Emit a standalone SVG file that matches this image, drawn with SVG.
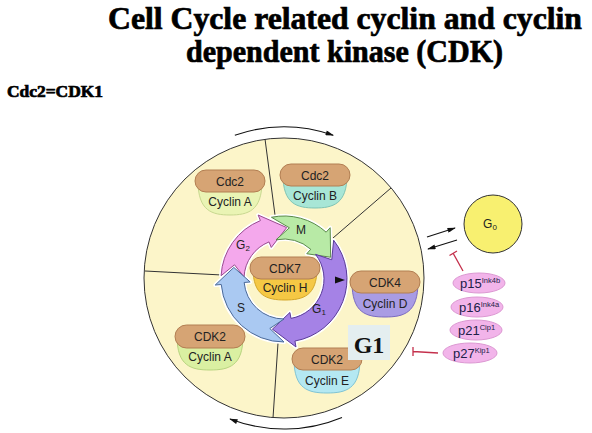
<svg xmlns="http://www.w3.org/2000/svg" xmlns:xlink="http://www.w3.org/1999/xlink" width="592" height="433" viewBox="0 0 592 433">
<style>
.title{font-family:"Liberation Serif","Times New Roman",serif;font-weight:bold;fill:#000;stroke:#000;stroke-width:0.7}
.lbl{font-family:"Liberation Sans",Arial,sans-serif;font-size:12px;fill:#222;text-anchor:middle}
.pl{font-family:"Liberation Sans",Arial,sans-serif;font-size:13px;fill:#202048}
.sup{font-size:7.5px}
.pill{fill:#d6a474;stroke:#b27e52;stroke-width:1}
.seg{stroke:#333;stroke-width:1;fill:none}
.halo{fill:none;stroke:#fff;stroke-width:4;stroke-linejoin:round}
.conn{stroke:#111;stroke-width:1.1;fill:none}
.inh{stroke:#c4304c;stroke-width:1.3;fill:none}
.pe{fill:#f2b4ea;stroke:#dc98d2;stroke-width:1}
</style>
<defs>
<marker id="ah" viewBox="0 0 10 6" refX="9" refY="3" markerWidth="9" markerHeight="5" markerUnits="userSpaceOnUse" orient="auto">
<path d="M0,0 L10,3 L0,6 z" fill="#111"/>
</marker>
<path id="aG2" d="M 221.09 275.70 A 63 63 0 0 1 260.40 220.59 L 258.15 215.02 L 286.69 227.57 L 271.26 247.48 L 269.02 241.91 A 40 40 0 0 0 244.05 276.91 L 234.49 264.81 Z"/>
<path id="aM" d="M 271.44 217.27 A 63 63 0 0 1 326.15 232.18 L 330.17 227.73 L 330.67 257.24 L 306.75 253.73 L 310.76 249.28 A 40 40 0 0 0 276.02 239.80 L 289.38 227.78 Z"/>
<path id="aG1" d="M 333.64 240.21 A 63 63 0 0 1 294.94 341.04 L 295.98 346.95 L 272.41 329.18 L 289.90 312.48 L 290.95 318.39 A 40 40 0 0 0 315.52 254.37 L 331.75 259.71 Z"/>
<path id="aS" d="M 284 342 A 63 63 0 0 1 221.24 284.49 L 215.26 285.01 L 233.82 267.41 L 250.13 281.96 L 244.15 282.49 A 40 40 0 0 0 284 319 L 269.81 328.51 Z"/>
</defs>
<rect width="592" height="433" fill="#fff"/>

<g id="title">
<text class="title" x="108" y="29" font-size="31" textLength="474" lengthAdjust="spacingAndGlyphs">Cell Cycle related cyclin and cyclin</text>
<text class="title" x="186" y="62" font-size="31" textLength="317" lengthAdjust="spacingAndGlyphs">dependent kinase (CDK)</text>
<text class="title" x="7" y="97" font-size="17" stroke-width="0.5" textLength="96" lengthAdjust="spacingAndGlyphs">Cdc2=CDK1</text>
</g>

<g id="cell-cycle">
<circle cx="284" cy="278" r="140" fill="#fcf5c9" stroke="#333" stroke-width="1"/>
<line class="seg" x1="265" y1="139" x2="275" y2="215"/>
<line class="seg" x1="391" y1="188" x2="333" y2="238"/>
<line class="seg" x1="145" y1="271" x2="222" y2="275"/>
<line class="seg" x1="278" y1="343" x2="273" y2="418"/>
</g>

<g id="phase-ring">
<use xlink:href="#aG2" class="halo"/>
<use xlink:href="#aM" class="halo"/>
<use xlink:href="#aG1" class="halo"/>
<use xlink:href="#aS" class="halo"/>
<use xlink:href="#aG2" fill="#f4a8ec" stroke="#9a4a90" stroke-width="1"/>
<use xlink:href="#aM" fill="#b8eaa6" stroke="#5a8a4a" stroke-width="1"/>
<use xlink:href="#aG1" fill="#a582e6" stroke="#5a3a9a" stroke-width="1"/>
<use xlink:href="#aS" fill="#aac9f2" stroke="#4a6a9a" stroke-width="1"/>
<path d="M335,276.5 L345,280 L335,283.5 Z" fill="#111"/>
<text class="lbl" x="243" y="249" fill="#5a1a6a">G<tspan font-size="8" dy="2">2</tspan></text>
<text class="lbl" x="301" y="234">M</text>
<text class="lbl" x="241" y="312">S</text>
<text class="lbl" x="319" y="313">G<tspan font-size="8" dy="2">1</tspan></text>
</g>

<g id="cdc2-cyclinA">
<path d="M198,181 H262 C262,211 248,215 230,215 C212,215 198,211 198,181 Z" fill="#eaf4b4" stroke="#c8d890"/>
<rect class="pill" x="195" y="170" width="70" height="22" rx="11"/>
<text class="lbl" x="230" y="185.5">Cdc2</text>
<text class="lbl" x="230" y="206">Cyclin A</text>
</g>

<g id="cdc2-cyclinB">
<path d="M283,175 H347 C347,204 333,208 315,208 C297,208 283,204 283,175 Z" fill="#a8e6d6" stroke="#80c4b4"/>
<rect class="pill" x="280" y="164" width="70" height="22" rx="11"/>
<text class="lbl" x="315" y="179.5">Cdc2</text>
<text class="lbl" x="315" y="200">Cyclin B</text>
</g>

<g id="cdk7-cyclinH">
<path d="M253,268 H317 C317,296 303,300 285,300 C267,300 253,296 253,268 Z" fill="#f5c844" stroke="#d4a628"/>
<rect class="pill" x="250" y="257" width="70" height="22" rx="11"/>
<text class="lbl" x="285" y="272.5">CDK7</text>
<text class="lbl" x="285" y="292">Cyclin H</text>
</g>

<g id="cdk4-cyclinD">
<path d="M352,282 H418 C418,313 404,317 385,317 C366,317 352,313 352,282 Z" fill="#a99ce4" stroke="#7a6ac0"/>
<rect class="pill" x="350" y="271" width="70" height="22" rx="11"/>
<text class="lbl" x="385" y="286.5">CDK4</text>
<text class="lbl" x="385" y="308">Cyclin D</text>
</g>

<g id="cdk2-cyclinA">
<path d="M177,336 H243 C243,366 229,370 210,370 C191,370 177,366 177,336 Z" fill="#daf0a2" stroke="#b8d480"/>
<rect class="pill" x="175" y="325" width="70" height="23" rx="11.5"/>
<text class="lbl" x="210" y="341">CDK2</text>
<text class="lbl" x="210" y="361">Cyclin A</text>
</g>

<g id="cdk2-cyclinE">
<path d="M294,359 H360 C360,389 346,393 327,393 C308,393 294,389 294,359 Z" fill="#b4e8f2" stroke="#80c4d4"/>
<rect class="pill" x="292" y="348" width="70" height="22" rx="11"/>
<text class="lbl" x="327" y="363.5">CDK2</text>
<text class="lbl" x="327" y="385">Cyclin E</text>
</g>

<g id="g1-label">
<rect x="348" y="325" width="42" height="35" fill="#e4eef0"/>
<text x="369" y="353" font-family="'Liberation Serif','Times New Roman',serif" font-weight="bold" font-size="24" text-anchor="middle" fill="#111">G1</text>
</g>

<g id="g0">
<circle cx="493" cy="224" r="29" fill="#f8f070" stroke="#333" stroke-width="1"/>
<text class="lbl" x="490" y="228">G<tspan font-size="8" dy="2">0</tspan></text>
</g>

<g id="connectors">
<path class="conn" d="M234.84,135.23 A151,151 0 0 1 333.16,135.23" marker-end="url(#ah)"/>
<path class="conn" d="M342,417.4 A151,151 0 0 1 230,419" marker-end="url(#ah)"/>
<line class="conn" x1="427" y1="237" x2="455" y2="228" marker-end="url(#ah)"/>
<line class="conn" x1="457" y1="240" x2="428" y2="249" marker-end="url(#ah)"/>
<path class="inh" d="M463,271 L453,253 M449.5,255.5 L457,251"/>
<path class="inh" d="M438,353 L413,351.5 M413,347 L413,356"/>
</g>

<g id="p15">
<ellipse class="pe" cx="479" cy="283" rx="26" ry="10"/>
<text class="pl" x="460" y="288">p15<tspan class="sup" dy="-5">Ink4b</tspan></text>
</g>
<g id="p16">
<ellipse class="pe" cx="477" cy="307" rx="26" ry="10"/>
<text class="pl" x="459" y="312">p16<tspan class="sup" dy="-5">Ink4a</tspan></text>
</g>
<g id="p21">
<ellipse class="pe" cx="476" cy="330" rx="26" ry="10"/>
<text class="pl" x="458" y="335">p21<tspan class="sup" dy="-5">Cip1</tspan></text>
</g>
<g id="p27">
<ellipse class="pe" cx="470" cy="353" rx="27" ry="10"/>
<text class="pl" x="453" y="358">p27<tspan class="sup" dy="-5">Kip1</tspan></text>
</g>
</svg>
